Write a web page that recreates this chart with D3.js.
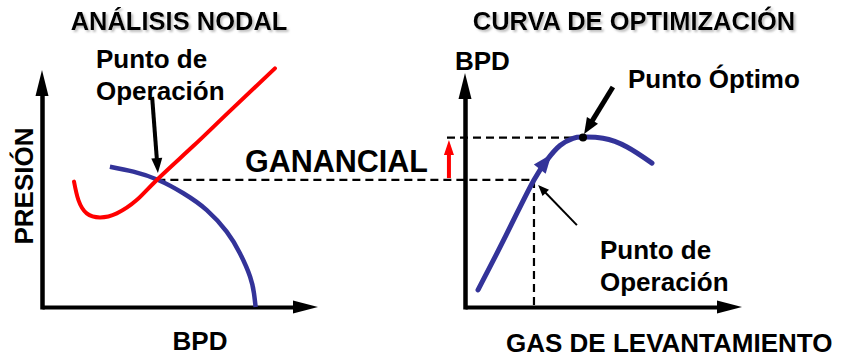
<!DOCTYPE html>
<html><head><meta charset="utf-8">
<script src="https://cdn.jsdelivr.net/npm/d3@7"></script>
<style>
html,body{margin:0;padding:0;background:#fff;}
svg{display:block;}
text{font-family:"Liberation Sans",Arial,Helvetica,sans-serif;font-weight:bold;}
</style>
</head><body>
<svg id="c" width="842" height="357">
  <defs>
    <filter id="shadow" x="-5%" y="-20%" width="115%" height="160%">
      <feDropShadow dx="2" dy="2" stdDeviation="0.8" flood-color="#8a8a8a" flood-opacity="0.55"/>
    </filter>
  </defs>
</svg>
<script>
// ---------- texts ----------
const leftTitle = "ANÁLISIS NODAL";
const rightTitle = "CURVA DE OPTIMIZACIÓN";
const leftXLabel = "BPD";
const leftYLabel = "PRESIÓN";
const rightXLabel = "GAS DE LEVANTAMIENTO";
const rightYLabel = "BPD";
const gainLabel = "GANANCIAL";
const opLabel = ["Punto de", "Operación"];
const optLabel = "Punto Óptimo";

// ---------- left panel data (BPD vs presión, arbitrary 0-100 units) ----------
const iprCurve = [[24.6,59.2],[33.1,57.1],[42.1,53.6],[51.2,48.0],[59.7,40.9],[66.9,31.8],[71.7,22.7],[75.4,12.8],[76.8,5.8],[77.4,0]];
const vlpCurve = [[11.6,52.9],[13.2,45.1],[16.2,39.5],[21.0,37.8],[27.1,39.5],[34.3,45.1],[41.6,53.6],[54.8,67.9],[66.9,81.4],[84.4,100.7]];
const nodalPoint = [41.8, 53.6];
const nodalArrow = [[39.9, 88.6], [42.0, 56.5]];

// ---------- right panel data (gas de levantamiento vs BPD) ----------
const optCurve = [[4.7,7.3],[11.6,23.1],[18.8,40.2],[24.9,54.3],[29.6,62.8],[34.3,69.0],[39,72.1],[42.6,72.6],[49.8,72.1],[58.5,68.4],[67.5,61.5]];
const opPoint = [24.9, 54.3];
const optPoint = [42.6, 72.4];
const optArrow = [[53.4, 94.0], [43.0, 73.9]];
const opArrow = [[40.4, 35.0], [26.4, 52.1]];
const gainArrowX = -5.8;
const gainArrowY = [55.1, 71.4];
const upperDashStart = -6.5;

// ---------- scales ----------
const xL = d3.scaleLinear().domain([0,100]).range([42,318]);
const yL = d3.scaleLinear().domain([0,100]).range([307,70]);
const xR = d3.scaleLinear().domain([0,100]).range([465,742]);
const yR = d3.scaleLinear().domain([0,100]).range([307,73]);

const svg = d3.select("#c");
const BLUE = "#333399", RED = "#ff0000";

// ---------- helpers ----------
function arrow(g, x1, y1, x2, y2, w, hl, hw, color) {
  const dx = x2 - x1, dy = y2 - y1, L = Math.hypot(dx, dy);
  const ux = dx / L, uy = dy / L, px = -uy, py = ux;
  const bx = x2 - ux * hl, by = y2 - uy * hl;
  g.append("line").attr("x1", x1).attr("y1", y1)
    .attr("x2", bx + ux * 2).attr("y2", by + uy * 2)
    .attr("stroke", color).attr("stroke-width", w);
  g.append("polygon")
    .attr("points", [[x2, y2], [bx + px * hw / 2, by + py * hw / 2], [bx - px * hw / 2, by - py * hw / 2]].map(p => p.join(",")).join(" "))
    .attr("fill", color);
}
function title(t, x, y) {
  svg.append("text").attr("x", x).attr("y", y).attr("text-anchor", "middle")
    .attr("font-size", 25.5).attr("fill", "#000").attr("filter", "url(#shadow)").text(t);
}
function axes(xs, ys) {
  const ax = xs.copy().range([xs.range()[0], xs.range()[1] - 22]);
  const ay = ys.copy().range([ys.range()[0] + 2, ys.range()[1] + 24]);
  const gx = svg.append("g").attr("transform", `translate(0,${ys.range()[0]})`)
    .call(d3.axisBottom(ax).ticks(0).tickSizeOuter(0));
  gx.select(".domain").attr("stroke", "#000").attr("stroke-width", 4);
  const gy = svg.append("g").attr("transform", `translate(${xs.range()[0]},0)`)
    .call(d3.axisLeft(ay).ticks(0).tickSizeOuter(0));
  gy.select(".domain").attr("stroke", "#000").attr("stroke-width", 4.5);
  const X = xs.range()[1], Y0 = ys.range()[0], X0 = xs.range()[0], Y = ys.range()[1];
  svg.append("polygon").attr("points", `${X},${Y0} ${X-25},${Y0-6.5} ${X-25},${Y0+6.5}`).attr("fill", "#000");
  svg.append("polygon").attr("points", `${X0},${Y} ${X0-6.5},${Y+26} ${X0+6.5},${Y+26}`).attr("fill", "#000");
}

// ---------- titles ----------
title(leftTitle, 179, 30);
title(rightTitle, 634, 30);

// ---------- axes ----------
axes(xL, yL);
axes(xR, yR);

// ---------- dashed guide lines ----------
const dash = svg.append("g").attr("stroke", "#000").attr("stroke-width", 2.2).attr("stroke-dasharray", "8,5").attr("fill", "none");
dash.append("line").attr("x1", xL(nodalPoint[0])).attr("y1", yL(nodalPoint[1]))
  .attr("x2", xR(opPoint[0])).attr("y2", yR(opPoint[1]));
dash.append("line").attr("x1", xR(upperDashStart)).attr("y1", yR(optPoint[1]))
  .attr("x2", xR(optPoint[0])).attr("y2", yR(optPoint[1]));
dash.append("line").attr("x1", xR(opPoint[0])).attr("y1", yR(opPoint[1]))
  .attr("x2", xR(opPoint[0])).attr("y2", yR(0));

// ---------- left curves ----------
const lineL = d3.line().x(d => xL(d[0])).y(d => yL(d[1])).curve(d3.curveNatural);
svg.append("path").attr("d", lineL(iprCurve)).attr("fill", "none").attr("stroke", BLUE).attr("stroke-width", 4.5);
svg.append("path").attr("d", lineL(vlpCurve)).attr("fill", "none").attr("stroke", RED).attr("stroke-width", 4).attr("stroke-linecap", "round");

// ---------- right curve ----------
const lineR = d3.line().x(d => xR(d[0])).y(d => yR(d[1])).curve(d3.curveNatural);
const optPath = svg.append("path").attr("d", lineR(optCurve)).attr("fill", "none").attr("stroke", BLUE)
  .attr("stroke-width", 5).attr("stroke-linecap", "round");
// arrowhead along the curve
(function () {
  const node = optPath.node(), total = node.getTotalLength();
  let l = 0;
  while (l < total && node.getPointAtLength(l).x < 550) l += 0.5;
  const p = node.getPointAtLength(l), q = node.getPointAtLength(l - 3);
  const dx = p.x - q.x, dy = p.y - q.y, L = Math.hypot(dx, dy);
  const ux = dx / L, uy = dy / L, px = -uy, py = ux;
  const tx = p.x + ux * 2, ty = p.y + uy * 2;
  const bx = tx - ux * 19, by = ty - uy * 19;
  svg.append("polygon")
    .attr("points", [[tx, ty], [bx + px * 7.5, by + py * 7.5], [bx - px * 7.5, by - py * 7.5]].map(d => d.join(",")).join(" "))
    .attr("fill", BLUE);
})();
svg.append("circle").attr("cx", xR(optPoint[0])).attr("cy", yR(optPoint[1])).attr("r", 4).attr("fill", "#000");

// ---------- annotation arrows ----------
const ann = svg.append("g");
arrow(ann, xL(nodalArrow[0][0]), yL(nodalArrow[0][1]), xL(nodalArrow[1][0]), yL(nodalArrow[1][1]), 4, 15, 11, "#000");
arrow(ann, xR(optArrow[0][0]), yR(optArrow[0][1]), xR(optArrow[1][0]), yR(optArrow[1][1]), 5, 16, 13, "#000");
arrow(ann, xR(opArrow[0][0]), yR(opArrow[0][1]), xR(opArrow[1][0]), yR(opArrow[1][1]), 2, 11, 9, "#000");
arrow(ann, xR(gainArrowX), yR(gainArrowY[0]), xR(gainArrowX), yR(gainArrowY[1]), 4, 15, 10, RED);

// ---------- labels ----------
const fs = 26;
svg.append("text").attr("x", 96).attr("y", 68).attr("font-size", fs).text(opLabel[0]);
svg.append("text").attr("x", 96).attr("y", 100).attr("font-size", fs).text(opLabel[1]);
svg.append("text").attr("transform", "translate(33,186) rotate(-90)").attr("text-anchor", "middle").attr("font-size", fs).text(leftYLabel);
svg.append("text").attr("x", 200).attr("y", 350).attr("text-anchor", "middle").attr("font-size", fs).text(leftXLabel);
svg.append("text").attr("x", 245).attr("y", 172).attr("font-size", 30.5).text(gainLabel);
svg.append("text").attr("x", 455).attr("y", 70).attr("font-size", fs).text(rightYLabel);
svg.append("text").attr("x", 628).attr("y", 88).attr("font-size", fs).text(optLabel);
svg.append("text").attr("x", 600).attr("y", 259).attr("font-size", fs).text(opLabel[0]);
svg.append("text").attr("x", 600).attr("y", 291).attr("font-size", fs).text(opLabel[1]);
svg.append("text").attr("x", 506).attr("y", 352).attr("font-size", fs).text(rightXLabel);
</script>
</body></html>
